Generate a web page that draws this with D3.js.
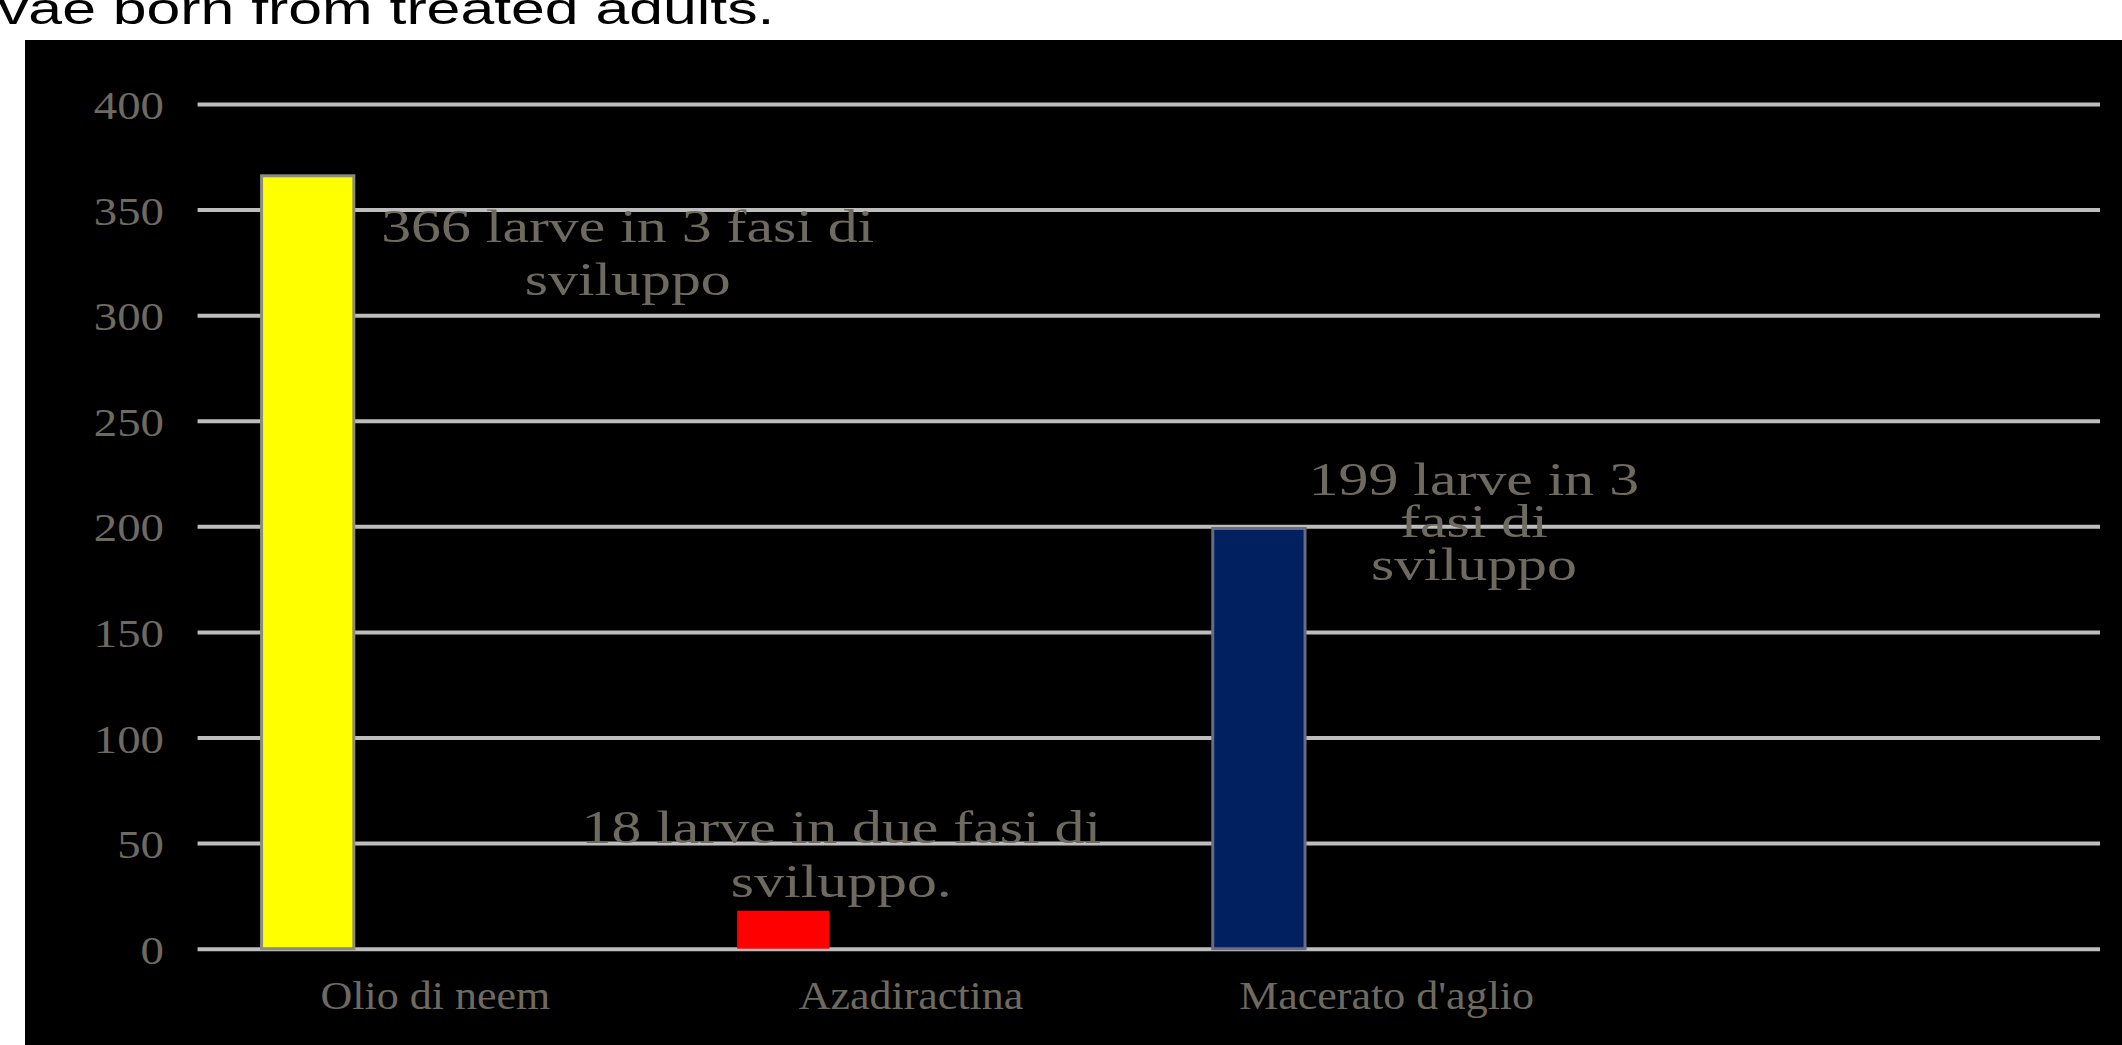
<!DOCTYPE html>
<html><head><meta charset="utf-8">
<script src="https://cdn.jsdelivr.net/npm/d3@7"></script>
<style>html,body{margin:0;padding:0;background:#fff;overflow:hidden}</style>
</head><body><svg id="c" width="2122" height="1045"></svg>
<script>
// ---- data ----
const categories = ["Olio di neem", "Azadiractina", "Macerato d'aglio", ""];
const values = [366, 18, 199];
const barLabels = [
  ["366 larve in 3 fasi di", "sviluppo"],
  ["18 larve in due fasi di", "sviluppo."],
  ["199 larve in 3", "fasi di", "sviluppo"]
];
const yTicks = [0, 50, 100, 150, 200, 250, 300, 350, 400];
const titleText = "vae born from treated adults.";

// ---- styles / layout ----
const barColors = ["#ffff00", "#ff0000", "#002060"];
const barStrokes = ["#8c8c7a", "none", "#6a6a82"];
const labelLayout = [
  {dx: 320, dy: 66, lh: 53},
  {dx: 58, dy: -67.5, lh: 53.5},
  {dx: 215, dy: -33.5, lh: 42.5}
];
const textFill = "#6f6a60";
const serif = "'Liberation Serif','Times New Roman',serif";

const svg = d3.select("#c");
svg.append("rect").attr("x", 0).attr("y", 0).attr("width", 2122).attr("height", 1045).attr("fill", "#fff");
svg.append("rect").attr("x", 25).attr("y", 40).attr("width", 2097).attr("height", 1005).attr("fill", "#000");

function stretchText(parent, x, y, txt, o) {
  const g = parent.append("g").attr("transform", `translate(${x},${y}) scale(${o.sx},1)`);
  return g.append("text").attr("x", 0).attr("y", 0)
    .attr("text-anchor", o.anchor || "start")
    .attr("font-family", o.family || serif)
    .attr("font-size", o.size)
    .attr("fill", o.fill || textFill)
    .text(txt);
}

// title fragment
stretchText(svg, -2, 24, titleText, {sx: 1.35, size: 45, family: "'Liberation Sans',Arial,sans-serif", fill: "#000"});

const plotL = 197.6, plotR = 2100;
const y = d3.scaleLinear().domain([0, 400]).range([948.7, 104]);
const x = d3.scaleBand().domain(categories).range([plotL, plotR]).padding(0);
const bw = x.bandwidth();

// gridlines via axis
const grid = svg.append("g").attr("transform", `translate(${plotL},0)`)
  .call(d3.axisLeft(y).tickValues(yTicks).tickSize(-(plotR - plotL)).tickFormat(""));
grid.select(".domain").remove();
grid.selectAll(".tick line").attr("stroke", "#bdbdbd").attr("stroke-width", 4);

// y labels
yTicks.forEach(t => {
  stretchText(svg, 164, y(t) + 15, String(t), {sx: 1.17, size: 40, anchor: "end"});
});

// x labels
categories.forEach(c => {
  if (!c) return;
  stretchText(svg, x(c) + bw / 2, 1009, c, {sx: 1.1, size: 40, anchor: "middle"});
});

// bars
const barW = bw * 0.194;
const barCx = i => x(categories[i]) + bw * 0.2315;
svg.append("g").selectAll("rect").data(values).join("rect")
  .attr("x", (d, i) => barCx(i) - barW / 2)
  .attr("y", d => y(d))
  .attr("width", barW)
  .attr("height", d => y(0) - y(d))
  .attr("fill", (d, i) => barColors[i])
  .attr("stroke", (d, i) => barStrokes[i])
  .attr("stroke-width", 3);

// bar labels
values.forEach((v, i) => {
  const L = labelLayout[i];
  const cx = barCx(i) + L.dx;
  barLabels[i].forEach((line, k) => {
    stretchText(svg, cx, y(v) + L.dy + k * L.lh, line, {sx: 1.3, size: 46, anchor: "middle"});
  });
});
</script></body></html>
